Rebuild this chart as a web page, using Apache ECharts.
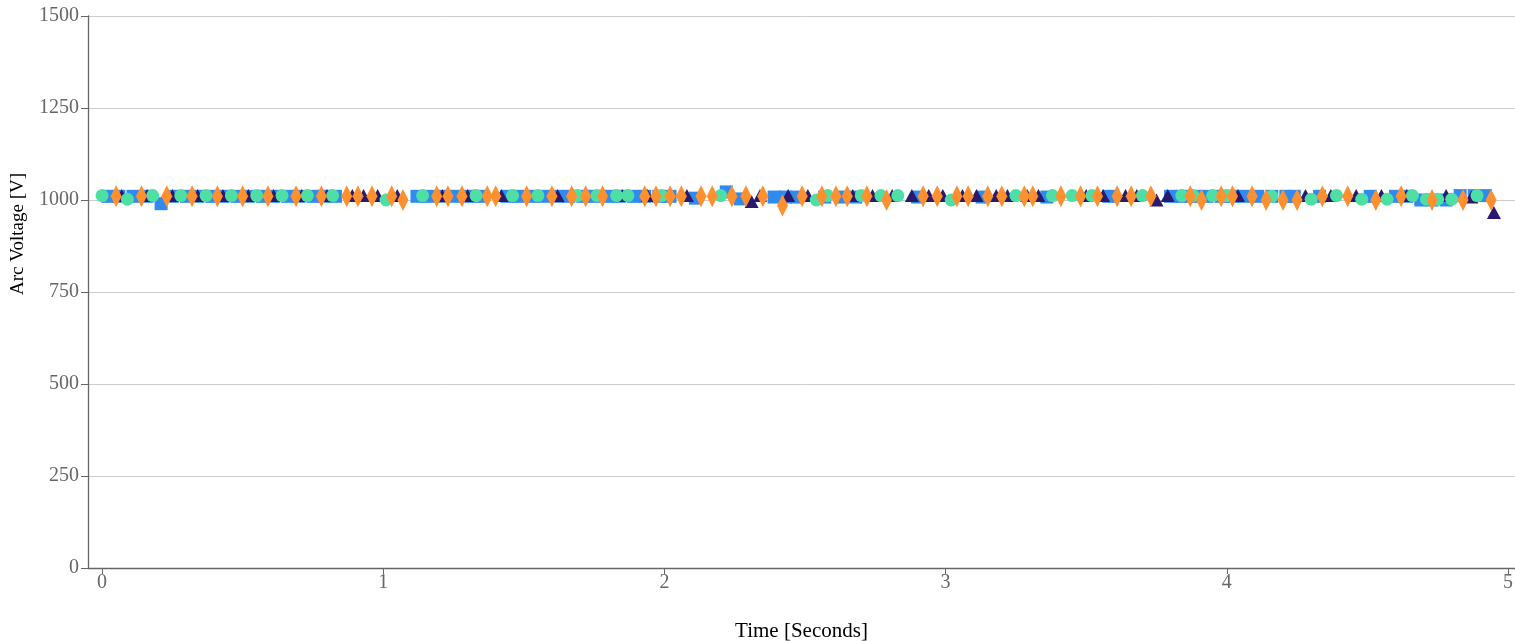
<!DOCTYPE html>
<html>
<head>
<meta charset="utf-8">
<script src="https://cdn.jsdelivr.net/npm/echarts@6/dist/echarts.min.js"></script>
<style>html,body{margin:0;padding:0;background:#fff}#c{width:1515px;height:641px}</style>
</head>
<body>
<div id="c"></div>
<script>
const xTicks = [0, 1, 2, 3, 4, 5];
const yTicks = [0, 250, 500, 750, 1000, 1250, 1500];

const blueT = [0.02,0.06,0.11,0.16,0.21,0.25,0.30,0.34,0.39,0.43,0.48,0.52,0.57,0.61,0.66,0.70,0.75,0.79,0.83,1.12,1.16,1.21,1.25,1.30,1.34,1.44,1.48,1.53,1.57,1.62,1.66,1.71,1.75,1.80,1.84,1.89,1.93,1.98,2.02,2.11,2.22,2.27,2.39,2.43,2.47,2.57,2.63,2.68,2.90,3.13,3.36,3.58,3.80,3.84,3.89,3.93,3.98,4.02,4.06,4.11,4.16,4.21,4.24,4.33,4.51,4.60,4.64,4.69,4.73,4.78,4.83,4.88,4.92];
const blueV = [1010,1010,1010,1010,990,1010,1010,1010,1010,1010,1010,1010,1010,1010,1010,1010,1010,1010,1010,1010,1010,1010,1010,1010,1010,1010,1010,1010,1010,1010,1010,1010,1010,1010,1010,1010,1010,1010,1010,1005,1022,1003,1008,1008,1008,1008,1008,1008,1008,1008,1008,1010,1010,1010,1010,1010,1010,1010,1010,1010,1010,1010,1010,1010,1010,1010,1010,1000,1000,1000,1012,1012,1012];

const navyT = [0.07,0.16,0.25,0.34,0.43,0.52,0.61,0.71,0.80,0.89,0.93,0.98,1.05,1.21,1.30,1.42,1.62,1.85,1.94,2.08,2.31,2.34,2.44,2.51,2.67,2.74,2.81,2.88,2.94,2.99,3.06,3.11,3.18,3.22,3.29,3.33,3.50,3.56,3.64,3.68,3.75,3.79,4.04,4.28,4.37,4.46,4.55,4.64,4.78,4.87,4.95];
const navyV = [1012,1012,1012,1012,1012,1012,1012,1012,1012,1012,1012,1012,1012,1012,1012,1012,1012,1012,1012,1012,996,1012,1012,1012,1012,1012,1012,1012,1012,1012,1012,1012,1012,1012,1012,1012,1012,1012,1012,1012,1000,1012,1012,1012,1012,1012,1012,1012,1012,1008,966];

const greenT = [0.00,0.09,0.18,0.28,0.37,0.46,0.55,0.64,0.73,0.82,1.01,1.14,1.33,1.46,1.55,1.69,1.76,1.83,1.87,1.99,2.20,2.54,2.58,2.70,2.77,2.83,3.02,3.25,3.38,3.45,3.52,3.70,3.84,3.88,3.95,4.00,4.16,4.30,4.39,4.48,4.57,4.66,4.71,4.75,4.80,4.89];
const greenV = [1012,1002,1012,1012,1012,1012,1012,1012,1012,1012,1000,1012,1012,1012,1012,1012,1012,1012,1012,1012,1012,1000,1012,1012,1012,1012,1000,1012,1012,1012,1012,1012,1012,1012,1012,1012,1010,1002,1012,1002,1002,1012,1002,1002,1002,1012];

const orangeT = [0.05,0.14,0.23,0.32,0.41,0.50,0.59,0.69,0.78,0.87,0.91,0.96,1.03,1.07,1.19,1.23,1.28,1.37,1.40,1.51,1.60,1.67,1.72,1.78,1.93,1.97,2.02,2.06,2.13,2.17,2.24,2.29,2.35,2.42,2.49,2.56,2.61,2.65,2.72,2.79,2.92,2.97,3.04,3.08,3.15,3.20,3.28,3.31,3.41,3.48,3.54,3.61,3.66,3.73,3.87,3.91,3.98,4.02,4.09,4.14,4.20,4.25,4.34,4.43,4.53,4.62,4.73,4.84,4.94];
const orangeV = [1010,1010,1010,1010,1010,1010,1010,1010,1010,1010,1010,1010,1010,1000,1010,1010,1010,1010,1010,1010,1010,1010,1010,1010,1010,1010,1010,1010,1010,1010,1010,1010,1010,985,1010,1010,1010,1010,1010,1000,1010,1010,1010,1010,1010,1010,1010,1010,1010,1010,1010,1010,1010,1010,1010,1000,1010,1010,1010,1000,1000,1000,1010,1010,1000,1010,1000,1000,1000];

function pairs(t, v) { return t.map((x, i) => [x, v[i]]); }

const font = '"Liberation Serif", "DejaVu Serif", serif';
const chart = echarts.init(document.getElementById('c'), null, { renderer: 'canvas' });
chart.setOption({
  animation: false,
  backgroundColor: '#ffffff',
  grid: { left: 88, right: 0, top: 16, bottom: 73, containLabel: false, outerBoundsMode: 'none' },
  graphic: [{
    type: 'text', x: 18, y: 234, rotation: Math.PI / 2,
    style: { text: 'Arc Voltage [V]', fontFamily: font, fontSize: 19, fill: '#000', textAlign: 'center', textVerticalAlign: 'middle' }
  }],
  xAxis: {
    type: 'value', min: -0.05, max: 5.025,
    name: 'Time [Seconds]', nameLocation: 'middle', nameGap: 53,
    nameTextStyle: { fontFamily: font, fontSize: 21, color: '#000' },
    axisLine: { show: true, onZero: false, lineStyle: { color: '#666', width: 1.3 } },
    axisTick: { show: true, length: 6, lineStyle: { color: '#666' }, customValues: xTicks },
    axisLabel: { fontFamily: font, fontSize: 20, color: '#666', margin: 5, customValues: xTicks, formatter: v => String(Math.round(v)) },
    splitLine: { show: false }
  },
  yAxis: {
    type: 'value', min: 0, max: 1500, interval: 250,
    axisLine: { show: true, onZero: false, lineStyle: { color: '#666', width: 1.3 } },
    axisTick: { show: true, length: 7, lineStyle: { color: '#666' } },
    axisLabel: { fontFamily: font, fontSize: 20, color: '#666', margin: 9, formatter: v => String(v) },
    splitLine: { show: true, lineStyle: { color: '#cccccc', width: 1 } }
  },
  series: [
    { type: 'scatter', name: 'blue', symbol: 'rect', symbolSize: 13, itemStyle: { color: '#2f8bf0', opacity: 1 }, data: pairs(blueT, blueV), z: 2 },
    { type: 'scatter', name: 'navy', symbol: 'triangle', symbolSize: [14, 13], itemStyle: { color: '#2a1a6e', opacity: 1 }, data: pairs(navyT, navyV), z: 3 },
    { type: 'scatter', name: 'green', symbol: 'circle', symbolSize: 13, itemStyle: { color: '#4edfa5', opacity: 1 }, data: pairs(greenT, greenV), z: 4 },
    { type: 'scatter', name: 'orange', symbol: 'diamond', symbolSize: [11, 22], itemStyle: { color: '#ff9030', opacity: 1 }, data: pairs(orangeT, orangeV), z: 5 }
  ]
});
</script>
</body>
</html>
